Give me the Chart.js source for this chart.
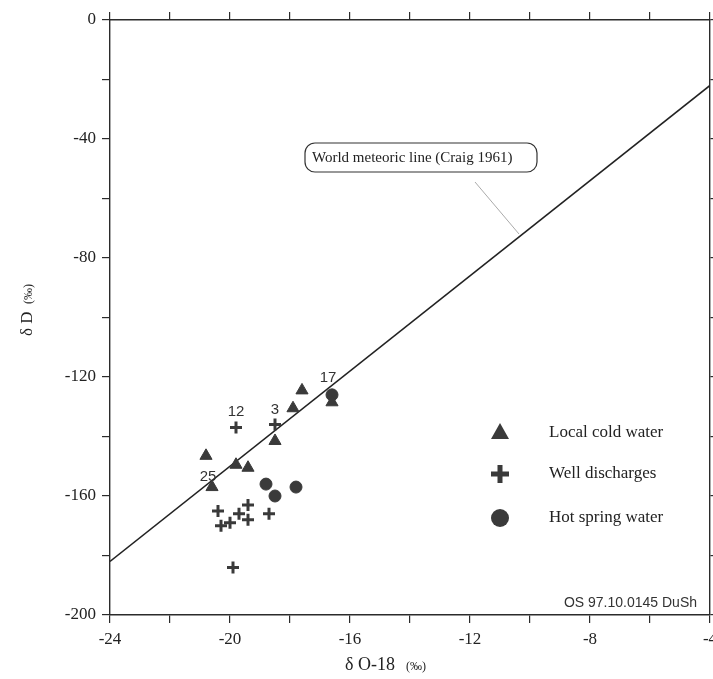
<!DOCTYPE html>
<html>
<head>
<meta charset="utf-8">
<title>dD vs d18O</title>
<script src="https://cdn.jsdelivr.net/npm/chart.js@4.4.1/dist/chart.umd.min.js"></script>
<style>
  html, body { margin: 0; padding: 0; background: #fff; }
  .chart-box { width: 713px; height: 679px; position: relative; }
</style>
</head>
<body>
<div class="chart-box"><canvas id="isoChart"></canvas></div>
<script>
// values (delta O-18, delta D, permil)
const coldX = [-17.6, -17.9, -18.5, -20.8, -19.8, -19.4, -20.6, -16.6];
const coldY = [-124.5, -130.5, -141.5, -146.5, -149.5, -150.5, -157, -128.5];
const wellX = [-19.8, -18.5, -19.4, -20.4, -19.7, -18.7, -19.4, -20.0, -20.3, -19.9];
const wellY = [-137, -136, -163, -165, -166, -166, -168, -169, -170, -184];
const hotX = [-18.8, -18.5, -17.8, -16.6];
const hotY = [-156, -160, -157, -126];
// world meteoric line (Craig 1961), end points at the frame
const wmlX = [-24, -4];
const wmlY = [-182, -22];
const xTickLabels = [-24, -20, -16, -12, -8, -4];
const yTickLabels = [0, -40, -80, -120, -160, -200];
const seriesNames = ['Local cold water', 'Well discharges', 'Hot spring water'];
// sample numbers next to some points
const sampleLabels = [
    { text: '25', set: 0, index: 6 },
    { text: '12', set: 1, index: 0 },
    { text: '3', set: 1, index: 1 },
    { text: '17', set: 2, index: 3 }
];

const ink = '#2b2b2b';
const markColor = '#3a3a3a';
const serif = '"Liberation Serif", "Times New Roman", serif';
const sans = '"Liberation Sans", Arial, sans-serif';

function toPoints(xs, ys) {
    return xs.map((x, i) => ({ x: x, y: ys[i] }));
}

// offsets of the sample numbers from their marker, in pixels
const labelOffsets = { '25': [-4, -10], '12': [0, -16], '3': [0, -15], '17': [-4, -17] };

const extras = {
    id: 'extras',
    afterDraw(chart) {
        const c = chart.ctx;
        const xs = chart.scales.x, ys = chart.scales.y;
        c.save();

        // sample numbers
        c.fillStyle = '#333';
        c.font = '15px ' + sans;
        c.textAlign = 'center';
        c.textBaseline = 'middle';
        sampleLabels.forEach(l => {
            const p = chart.data.datasets[l.set].data[l.index];
            const off = labelOffsets[l.text];
            c.fillText(l.text, xs.getPixelForValue(p.x) + off[0], ys.getPixelForValue(p.y) + off[1]);
        });

        // callout box for the meteoric line
        c.strokeStyle = '#333';
        c.lineWidth = 1.2;
        c.beginPath();
        c.roundRect(305, 143, 232, 29, 10);
        c.stroke();
        c.fillStyle = '#222';
        c.font = '15px ' + serif;
        c.textAlign = 'left';
        c.fillText('World meteoric line (Craig 1961)', 312, 158);
        c.strokeStyle = '#aaa';
        c.lineWidth = 1;
        c.beginPath();
        c.moveTo(475, 182);
        c.lineTo(519, 234);
        c.stroke();

        // legend
        const lx = 500, rows = [433, 474, 518];
        c.fillStyle = markColor;
        c.beginPath();
        c.moveTo(lx, rows[0] - 10);
        c.lineTo(lx + 9, rows[0] + 6);
        c.lineTo(lx - 9, rows[0] + 6);
        c.closePath();
        c.fill();
        c.strokeStyle = markColor;
        c.lineWidth = 5;
        c.beginPath();
        c.moveTo(lx - 9, rows[1]); c.lineTo(lx + 9, rows[1]);
        c.moveTo(lx, rows[1] - 9); c.lineTo(lx, rows[1] + 9);
        c.stroke();
        c.beginPath();
        c.arc(lx, rows[2], 9, 0, Math.PI * 2);
        c.fill();
        c.fillStyle = '#222';
        c.font = '17px ' + serif;
        seriesNames.forEach((n, i) => c.fillText(n, 549, rows[i]));

        // stamp
        c.font = '14px ' + sans;
        c.fillStyle = '#333';
        c.textAlign = 'right';
        c.fillText('OS 97.10.0145 DuSh', 697, 603);

        // axis titles with small permil unit
        c.fillStyle = '#222';
        c.textAlign = 'left';
        c.font = '18px ' + serif;
        c.fillText('\u03b4 O-18', 345, 665);
        c.font = '12px ' + serif;
        c.fillText('(\u2030)', 406, 667);
        c.translate(28, 336);
        c.rotate(-Math.PI / 2);
        c.font = '17px ' + serif;
        c.fillText('\u03b4 D', 0, 0);
        c.font = '12px ' + serif;
        c.fillText('(\u2030)', 32, 1);
        c.restore();
    }
};

const frameGrid = {
    display: true,
    drawOnChartArea: false,
    drawTicks: true,
    tickLength: 8,
    color: ink,
    lineWidth: 1.2
};
const frameBorder = { display: true, color: ink, width: 1.4 };

const isoChart = new Chart(document.getElementById('isoChart').getContext('2d'), {
    type: 'scatter',
    data: {
        datasets: [
            {
                label: seriesNames[0],
                data: toPoints(coldX, coldY),
                pointStyle: 'triangle',
                pointRadius: 7,
                backgroundColor: markColor,
                borderColor: markColor,
                borderWidth: 1
            },
            {
                label: seriesNames[1],
                data: toPoints(wellX, wellY),
                pointStyle: 'cross',
                pointRadius: 6,
                borderColor: markColor,
                borderWidth: 3
            },
            {
                label: seriesNames[2],
                data: toPoints(hotX, hotY),
                pointStyle: 'circle',
                pointRadius: 6,
                backgroundColor: markColor,
                borderColor: markColor,
                borderWidth: 1
            },
            {
                type: 'line',
                label: 'World meteoric line',
                data: toPoints(wmlX, wmlY),
                borderColor: '#222',
                borderWidth: 1.5,
                pointRadius: 0,
                fill: false
            }
        ]
    },
    options: {
        responsive: true,
        maintainAspectRatio: false,
        animation: false,
        layout: { padding: 0, autoPadding: false },
        plugins: { legend: { display: false }, tooltip: { enabled: false } },
        scales: {
            x: {
                type: 'linear', position: 'bottom', min: -24, max: -4,
                ticks: {
                    stepSize: 2, padding: 6, color: '#222',
                    font: { family: serif, size: 17 },
                    callback: v => xTickLabels.includes(v) ? String(v) : ''
                },
                grid: frameGrid, border: frameBorder,
                afterFit: s => { s.height = 64; s.paddingLeft = 0; s.paddingRight = 0; }
            },
            x2: {
                type: 'linear', position: 'top', min: -24, max: -4,
                ticks: { stepSize: 2, display: false },
                grid: frameGrid, border: frameBorder,
                afterFit: s => { s.height = 20; s.paddingLeft = 0; s.paddingRight = 0; }
            },
            y: {
                type: 'linear', position: 'left', min: -200, max: 0,
                ticks: {
                    stepSize: 20, padding: 6, color: '#222',
                    font: { family: serif, size: 17 },
                    callback: v => yTickLabels.includes(v) ? String(v) : ''
                },
                grid: frameGrid, border: frameBorder,
                afterFit: s => { s.width = 110; s.paddingTop = 0; s.paddingBottom = 0; }
            },
            y2: {
                type: 'linear', position: 'right', min: -200, max: 0,
                ticks: { stepSize: 20, display: false },
                grid: Object.assign({}, frameGrid, { tickLength: 3 }), border: frameBorder,
                afterFit: s => { s.width = 3; s.paddingTop = 0; s.paddingBottom = 0; }
            }
        }
    },
    plugins: [extras]
});
</script>
</body>
</html>
